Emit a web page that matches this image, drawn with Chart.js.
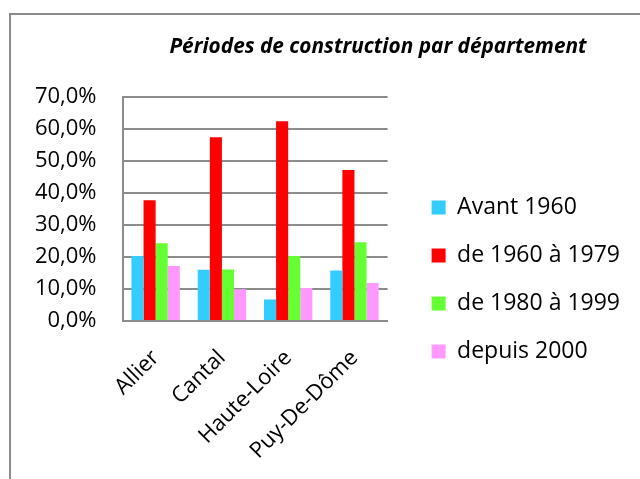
<!DOCTYPE html>
<html>
<head>
<meta charset="utf-8">
<script src="https://cdn.jsdelivr.net/npm/chart.js@4"></script>
<style>
  html, body { margin: 0; padding: 0; background: #fff; }
  #wrap { position: relative; width: 640px; height: 479px; overflow: hidden; }
  #frame { position: absolute; left: 9px; top: 13px; width: 700px; height: 600px; border: 2px solid #8c8c8c; }
  canvas { position: absolute; left: 0; top: 0; }
</style>
</head>
<body>
<div id="wrap">
  <div id="frame"></div>
  <canvas id="chart" width="640" height="479"></canvas>
</div>
<script>
// --- data ---
const departements = ["Allier", "Cantal", "Haute-Loire", "Puy-De-Dôme"];
const periodes = ["Avant 1960", "de 1960 à 1979", "de 1980 à 1999", "depuis 2000"];
const avant1960 = [20.3, 16.0, 6.7, 15.8];
const de1960a1979 = [37.7, 57.4, 62.4, 47.2];
const de1980a1999 = [24.3, 16.1, 20.3, 24.6];
const depuis2000 = [17.2, 9.9, 10.3, 11.9];
const couleurs = ["#33ccff", "#ff0000", "#66ff33", "#ff99ff"];
const titre = "Périodes de construction par département";

const FONT = "'Open Sans', sans-serif";

// title drawn by hand, Excel puts it off-centre
const titlePlugin = {
  id: "titreExcel",
  afterDraw(chart) {
    const ctx = chart.ctx;
    ctx.save();
    ctx.font = "italic bold 20.8px " + FONT;
    ctx.fillStyle = "#000";
    ctx.textAlign = "center";
    ctx.textBaseline = "middle";
    ctx.fillText(titre, 378, 47);
    ctx.restore();
  }
};

const series = [avant1960, de1960a1979, de1980a1999, depuis2000];

function draw() {
  new Chart(document.getElementById("chart"), {
    type: "bar",
    data: {
      labels: departements,
      datasets: series.map((vals, i) => ({
        label: periodes[i],
        data: vals,
        backgroundColor: couleurs[i],
        borderWidth: 0,
        barPercentage: 1.0,
        categoryPercentage: 0.73,
      })),
    },
    options: {
      responsive: false,
      animation: false,
      layout: { padding: { top: 97, left: 21, right: 10, bottom: 17 } },
      plugins: {
        title: { display: false },
        tooltip: { enabled: false },
        legend: {
          position: "right",
          maxWidth: 300,
          labels: {
            font: { family: FONT, size: 23 },
            color: "#000",
            boxWidth: 14,
            boxHeight: 14,
            padding: 25,
          },
        },
      },
      scales: {
        x: {
          grid: { display: false, drawTicks: false },
          border: { color: "#8c8c8c", width: 2 },
          ticks: {
            font: { family: FONT, size: 22 },
            color: "#000",
            minRotation: 45,
            maxRotation: 45,
            padding: 24,
          },
          afterFit: (s) => {
            s.height = 141;
            s.paddingLeft = 0;
            s.paddingRight = 0;
          },
        },
        y: {
          min: 0,
          max: 70,
          grid: { color: "#8c8c8c", lineWidth: 2, drawTicks: false },
          border: { color: "#8c8c8c", width: 2 },
          ticks: {
            stepSize: 10,
            font: { family: FONT, size: 22 },
            color: "#000",
            padding: 26,
            callback: (v) => v.toFixed(1).replace(".", ",") + "%",
          },
        },
        // empty axis, only used as a gap between plot and legend
        espace: {
          type: "linear",
          position: "right",
          grid: { display: false },
          border: { display: false },
          ticks: { display: false },
          afterFit: (s) => { s.width = 19; },
        },
      },
    },
    plugins: [titlePlugin],
  });
}

if (document.fonts && document.fonts.load) {
  Promise.all([
    document.fonts.load("22px 'Open Sans'"),
    document.fonts.load("italic bold 21px 'Open Sans'"),
  ]).then(draw, draw);
} else {
  draw();
}
</script>
</body>
</html>
